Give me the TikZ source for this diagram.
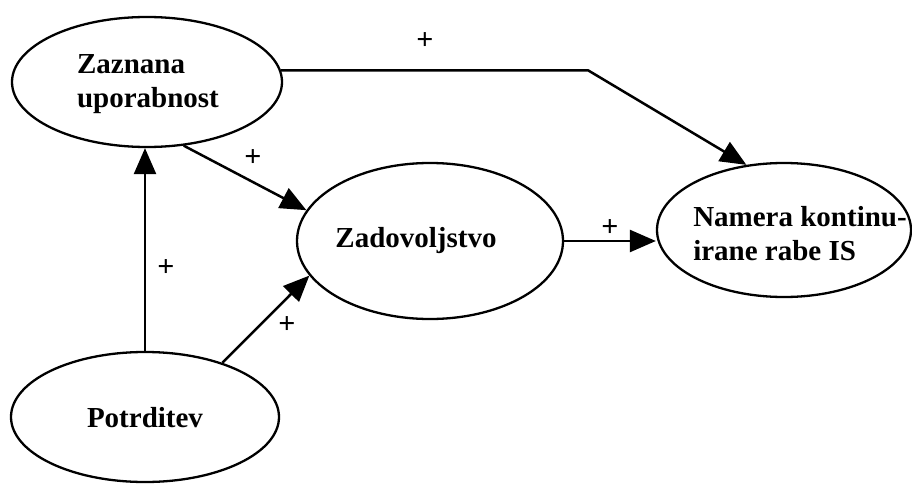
\documentclass[tikz,border=0pt]{standalone}
\usepackage{fontspec}
\setmainfont{Liberation Serif}
\usetikzlibrary{shapes.geometric,arrows.meta}
\begin{document}
\begin{tikzpicture}[x=1pt,y=-1pt,
  oval/.style={ellipse,draw,line width=2.3pt,inner sep=0pt},
  lbl/.style={font=\bfseries\fontsize{29}{34}\selectfont,align=left,inner sep=0pt},
  sign/.style={font=\bfseries\fontsize{30}{30}\selectfont,inner sep=0pt},
  link/.style={line width=2.5pt,-{Triangle[length=26pt,width=22pt]}}]
\useasboundingbox (0,0) rectangle (912,484);
% constructs
\node[oval,minimum width=270pt,minimum height=130pt] (zaz) at (147,82) {};
\node[oval,minimum width=266pt,minimum height=156pt] (zad) at (430,241) {};
\node[oval,minimum width=254pt,minimum height=134pt] (nam) at (784,230) {};
\node[oval,minimum width=268pt,minimum height=130pt] (pot) at (145,417) {};
% construct names
\node[lbl] (tzaz) at (148,84) {Zaznana\\uporabnost};
\node[lbl] (tzad) at (416,241) {Zadovoljstvo};
\node[lbl] (tnam) at (800,234) {Namera kontinu-\\irane rabe IS};
\node[lbl] (tpot) at (145,418) {Potrditev};
% paths
\coordinate (bend) at (588,70);
\draw[link] (zaz.5) -- (zaz.5 -| bend) -- (nam.120);
\draw[link] (zaz.300) -- (zad.166);
\draw[link] (pot.north) -- (pot.north |- zaz.south);
\draw[link] (pot.35) -- (zad.196);
\draw[link] (zad.east) -- (zad.east -| nam.west);
% signs
\node[sign] (s1) at (425,41) {+};
\node[sign] (s2) at (253,158) {+};
\node[sign] (s3) at (166,268) {+};
\node[sign] (s4) at (287,325) {+};
\node[sign] (s5) at (610,228) {+};
\end{tikzpicture}
\end{document}
